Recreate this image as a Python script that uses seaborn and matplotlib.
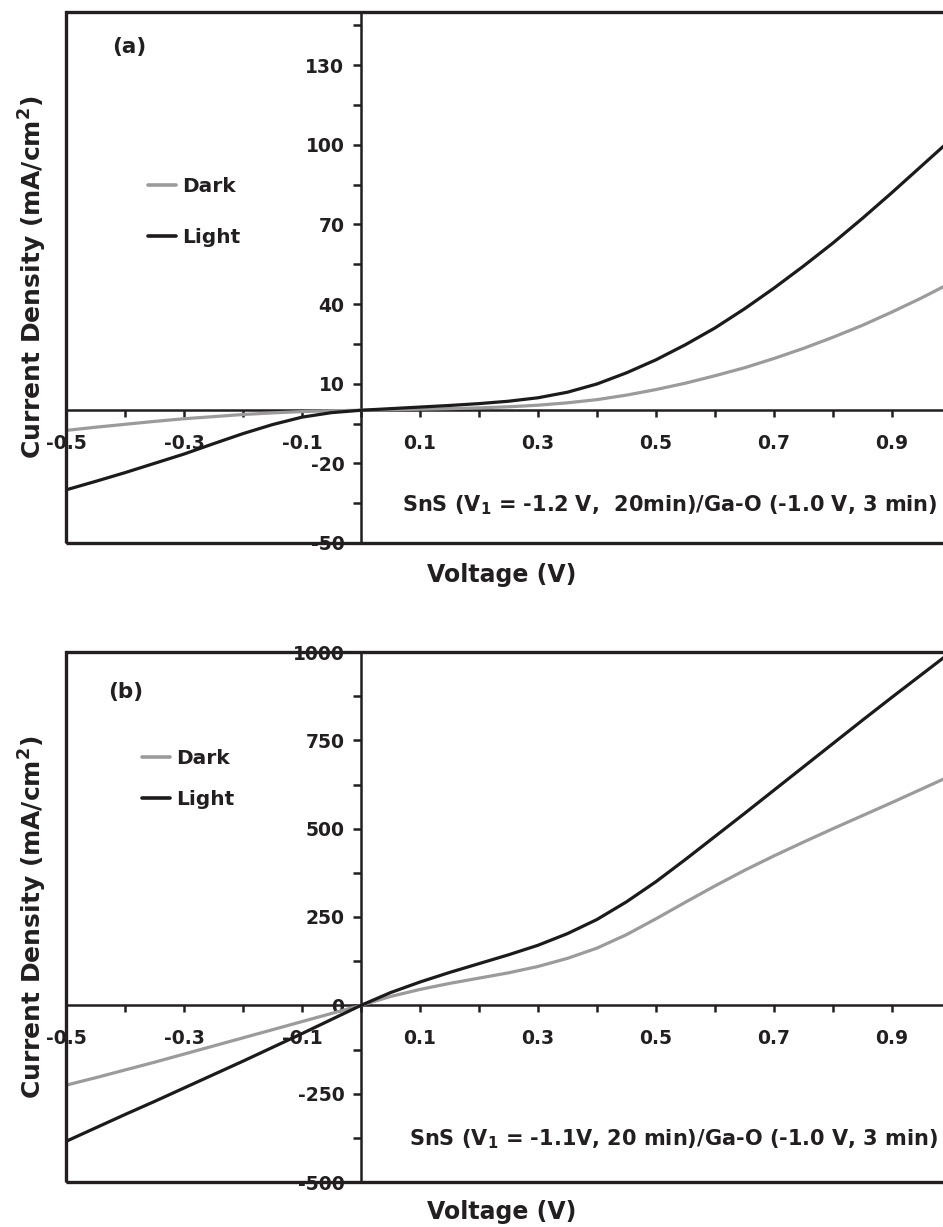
import matplotlib
matplotlib.use("Agg")
import matplotlib.pyplot as plt
import pandas as pd
import seaborn as sns
from matplotlib.patches import Rectangle
from matplotlib.ticker import FixedLocator

# ---- data -------------------------------------------------------------
voltage = [-0.50, -0.45, -0.40, -0.35, -0.30, -0.25, -0.20, -0.15, -0.10, -0.05,
           0.00, 0.05, 0.10, 0.15, 0.20, 0.25, 0.30, 0.35, 0.40, 0.45,
           0.50, 0.55, 0.60, 0.65, 0.70, 0.75, 0.80, 0.85, 0.90, 0.95, 1.00]

# panel (a): SnS (V1 = -1.2 V, 20 min)/Ga-O
dark_a = [-7.6, -6.4, -5.3, -4.2, -3.2, -2.4, -1.6, -1.0, -0.5, -0.2,
          0.0, 0.2, 0.4, 0.6, 0.9, 1.3, 1.9, 2.8, 4.0, 5.7,
          7.8, 10.2, 13.0, 16.0, 19.5, 23.3, 27.5, 32.0, 37.0, 42.3, 48.0]
light_a = [-30.0, -26.8, -23.5, -20.0, -16.5, -12.6, -8.8, -5.4, -2.6, -0.9,
           0.0, 0.6, 1.2, 1.8, 2.5, 3.4, 4.7, 6.8, 9.9, 14.1,
           19.0, 24.7, 31.0, 38.2, 46.0, 54.3, 63.0, 72.3, 82.0, 92.0, 102.0]

# panel (b): SnS (V1 = -1.1 V, 20 min)/Ga-O
dark_b = [-226, -205, -183, -161, -138, -115, -92, -69, -46, -23,
          0, 25, 45, 62, 77, 92, 110, 133, 162, 200,
          245, 292, 338, 382, 423, 462, 500, 537, 574, 612, 650]
light_b = [-385, -347, -309, -272, -234, -196, -158, -119, -80, -40,
           0, 36, 66, 93, 118, 143, 170, 203, 243, 293,
           350, 413, 478, 543, 609, 675, 741, 807, 872, 936, 1000]

conditions = ["Dark", "Light"]

x_major = [-0.5, -0.3, -0.1, 0.1, 0.3, 0.5, 0.7, 0.9]
x_minor = [-0.4, -0.2, 0.0, 0.2, 0.4, 0.6, 0.8, 1.0]
x_labels = ["-0.5", "-0.3", "-0.1", "0.1", "0.3", "0.5", "0.7", "0.9"]

ya_major = [-50, -20, 10, 40, 70, 100, 130]
ya_minor = [-35, -5, 25, 55, 85, 115, 145]
ya_labels = ["-50", "-20", "10", "40", "70", "100", "130"]

yb_major = [-500, -250, 0, 250, 500, 750, 1000]
yb_minor = [-375, -125, 125, 375, 625, 875]
yb_labels = ["-500", "-250", "0", "250", "500", "750", "1000"]

captions = ["SnS (V$_1$ = -1.2 V,  20min)/Ga-O (-1.0 V, 3 min)",
            "SnS (V$_1$ = -1.1V, 20 min)/Ga-O (-1.0 V, 3 min)"]
panel_tags = ["(a)", "(b)"]

# ---- style ------------------------------------------------------------
sns.set_style("white")
plt.rcParams["font.family"] = ["DejaVu Sans"]
plt.rcParams["font.weight"] = "bold"
plt.rcParams["mathtext.default"] = "bf"
plt.rcParams["axes.unicode_minus"] = False

INK = "#231f20"
palette = {"Dark": "#9b9b9b", "Light": "#1c1a1b"}

W, H = 943, 1227
fig = plt.figure(figsize=(W / 100, H / 100), dpi=100)


def fx(px):
    return px / W


def fy(py):
    return 1 - py / H


def build_frame(dark, light):
    return pd.DataFrame({
        "Voltage": voltage * 2,
        "J": list(dark) + list(light),
        "Condition": ["Dark"] * len(voltage) + ["Light"] * len(voltage),
    })


def draw_panel(ax, df, ylim, ymaj, ymin, ylab, leg_xy, leg_spacing):
    sns.lineplot(data=df, x="Voltage", y="J", hue="Condition",
                 hue_order=conditions, palette=palette, linewidth=2.3,
                 ax=ax, legend=True, sort=False)
    ax.set_xlim(-0.5, 1.0)
    ax.set_ylim(*ylim)
    ax.set_xlabel("")
    ax.set_ylabel("")

    # axes lines crossing at the origin
    for side in ("top", "right"):
        ax.spines[side].set_visible(False)
    for side in ("left", "bottom"):
        ax.spines[side].set_position(("data", 0))
        ax.spines[side].set_linewidth(1.8)
        ax.spines[side].set_color(INK)
        ax.spines[side].set_zorder(1)

    # outer box
    ax.add_patch(Rectangle((0, 0), 1, 1, transform=ax.transAxes, fill=False,
                           lw=2.4, ec=INK, clip_on=False, zorder=6))

    ax.xaxis.set_major_locator(FixedLocator(x_major))
    ax.xaxis.set_minor_locator(FixedLocator(x_minor))
    ax.set_xticklabels(x_labels)
    ax.yaxis.set_major_locator(FixedLocator(ymaj))
    ax.yaxis.set_minor_locator(FixedLocator(ymin))
    ax.set_yticklabels(ylab)

    ax.tick_params(axis="x", which="both", direction="out", length=5,
                   width=1.8, color=INK, pad=12, bottom=True)
    ax.tick_params(axis="y", which="both", direction="out", length=6,
                   width=1.8, color=INK, pad=6, left=True)
    for lab in ax.get_xticklabels() + ax.get_yticklabels():
        lab.set_fontsize(13.5)
        lab.set_fontweight("bold")
        lab.set_color(INK)

    handles, labels = ax.get_legend_handles_labels()
    leg = ax.legend(handles, labels, loc="center left",
                    bbox_to_anchor=leg_xy, bbox_transform=fig.transFigure,
                    frameon=False, fontsize=14.5, handlelength=1.4,
                    handletextpad=0.3, labelspacing=leg_spacing,
                    borderpad=0, borderaxespad=0)
    for t in leg.get_texts():
        t.set_fontweight("bold")
        t.set_color(INK)
    for ln in leg.get_lines():
        ln.set_linewidth(2.6)


ax_a = fig.add_axes([fx(66), fy(543), 885 / W, 531 / H])
draw_panel(ax_a, build_frame(dark_a, light_a), (-50, 150),
           ya_major, ya_minor, ya_labels, (fx(148), fy(212)), 1.55)

ax_b = fig.add_axes([fx(66), fy(1182), 885 / W, 530 / H])
draw_panel(ax_b, build_frame(dark_b, light_b), (-500, 1000),
           yb_major, yb_minor, yb_labels, (fx(142), fy(779)), 1.1)

# axis titles, panel tags and sample captions
layout = [(277, 575, (129, 47), (938, 505)),
          (917, 1212, (126, 692), (938, 1139))]
for i, (ycen, xl_y, tag_xy, cap_xy) in enumerate(layout):
    fig.text(fx(33), fy(ycen), "Current Density (mA/cm$^2$)", rotation=90,
             ha="center", va="center", fontsize=18, fontweight="bold",
             color=INK)
    fig.text(fx(502), fy(xl_y), "Voltage (V)", ha="center", va="center",
             fontsize=17, fontweight="bold", color=INK)
    fig.text(fx(tag_xy[0]), fy(tag_xy[1]), panel_tags[i],
             ha="center", va="center", fontsize=15.5, fontweight="bold",
             color=INK)
    fig.text(fx(cap_xy[0]), fy(cap_xy[1]), captions[i], ha="right",
             va="center", fontsize=15, fontweight="bold", color=INK)

fig.savefig("out.png", dpi=100, facecolor="white")
